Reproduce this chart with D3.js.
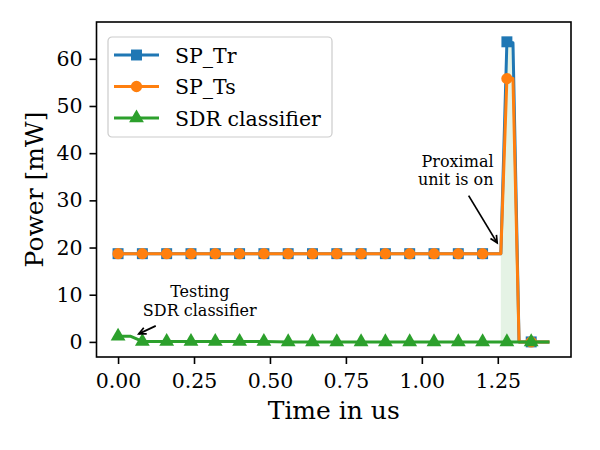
<!DOCTYPE html>
<html>
<head>
<meta charset="utf-8">
<script src="https://d3js.org/d3.v7.min.js"></script>
<style>
body { margin: 0; background: #fff; }
text { font-family: "DejaVu Serif", serif; fill: #000; }
</style>
</head>
<body>
<div id="chart-area"></div>
<script>
// data (time in us, power in mW)
var markTimes = [0, 0.08, 0.16, 0.24, 0.32, 0.40, 0.48, 0.56, 0.64, 0.72, 0.80, 0.88, 0.96, 1.04, 1.12, 1.20, 1.28, 1.36]

var spTime = [0, 0.08, 0.16, 0.24, 0.32, 0.40, 0.48, 0.56, 0.64, 0.72, 0.80, 0.88, 0.96, 1.04, 1.12, 1.20, 1.26, 1.28, 1.30, 1.32, 1.36, 1.42]
var spTr = [18.7, 18.7, 18.7, 18.7, 18.7, 18.7, 18.7, 18.7, 18.7, 18.7, 18.7, 18.7, 18.7, 18.7, 18.7, 18.7, 18.7, 63.6, 63.4, 0, 0, 0]
var spTs = [18.7, 18.7, 18.7, 18.7, 18.7, 18.7, 18.7, 18.7, 18.7, 18.7, 18.7, 18.7, 18.7, 18.7, 18.7, 18.7, 18.7, 55.8, 55.8, 0, 0, 0]

var sdrTime = [0, 0.04, 0.08, 0.16, 0.24, 0.32, 0.40, 0.48, 0.56, 0.64, 0.72, 0.80, 0.88, 0.96, 1.04, 1.12, 1.20, 1.28, 1.36, 1.42]
var sdrPow = [1.2, 1.2, 0.1, 0.1, 0.1, 0.1, 0.1, 0.1, 0, 0, 0, 0, 0, 0, 0, 0, 0, 0, 0, 0]

// shaded "proximal unit on" region
var shadeTime = [1.26, 1.26, 1.28, 1.30, 1.32]
var shadeTop = [0, 18.7, 63.6, 63.4, 0]

var xTicks = [0, 0.25, 0.5, 0.75, 1.0, 1.25]
var yTicks = [0, 10, 20, 30, 40, 50, 60]

var series = [
	{name: "SP_Tr", t: spTime, p: spTr, color: "#1f77b4", marker: "square"},
	{name: "SP_Ts", t: spTime, p: spTs, color: "#ff7f0e", marker: "circle"},
	{name: "SDR classifier", t: sdrTime, p: sdrPow, color: "#2ca02c", marker: "triangle"}
]

var W = 600, H = 450
var margin = {top: 22, right: 29, bottom: 93, left: 96.5}
var width = W - margin.left - margin.right
var height = H - margin.top - margin.bottom

var svg = d3.select("#chart-area").append("svg")
.attr("width", W)
.attr("height", H)

var g = svg.append("g")
.attr("transform", "translate(" + margin.left + ", " + margin.top + ")")

var x = d3.scaleLinear()
.domain([-0.071, 1.491])
.range([0, width])

var y = d3.scaleLinear()
.domain([-3.2, 67.8])
.range([height, 0])

// shade
var shadePts = shadeTime.map((t, i) => [t, shadeTop[i]])
g.append("path")
.attr("d", d3.line().x(d => x(d[0])).y(d => y(d[1]))(shadePts) + "Z")
.attr("fill", "#2ca02c")
.attr("fill-opacity", 0.12)

var symbols = {
	square: d3.symbol().type(d3.symbolSquare).size(120),
	circle: d3.symbol().type(d3.symbolCircle).size(100),
	triangle: d3.symbol().type(d3.symbolTriangle).size(95)
}

var line = d3.line().x(d => x(d[0])).y(d => y(d[1]))

series.forEach(s => {
	var pts = s.t.map((t, i) => [t, s.p[i]])
	g.append("path")
	.attr("d", line(pts))
	.attr("fill", "none")
	.attr("stroke", s.color)
	.attr("stroke-width", 3)
	.attr("stroke-linejoin", "round")

	var marks = pts.filter(d => markTimes.some(m => Math.abs(m - d[0]) < 1e-6))
	g.selectAll(null).data(marks).enter().append("path")
	.attr("d", symbols[s.marker])
	.attr("transform", d => "translate(" + x(d[0]) + "," + y(d[1]) + ")")
	.attr("fill", s.color)
})

// axes
var xAxisCall = d3.axisBottom(x).tickValues(xTicks).tickFormat(d3.format(".2f")).tickSize(7).tickPadding(9)
var yAxisCall = d3.axisLeft(y).tickValues(yTicks).tickSize(7).tickPadding(7)

var xAxisGroup = g.append("g")
.attr("transform", "translate(0, " + height + ")")
.call(xAxisCall)
var yAxisGroup = g.append("g").call(yAxisCall)

;[xAxisGroup, yAxisGroup].forEach(a => {
	a.select(".domain").remove()
	a.selectAll("line").attr("stroke", "#000").attr("stroke-width", 1.6)
	a.selectAll("text").attr("font-size", "20.5px").attr("font-family", "DejaVu Serif").attr("fill", "#000")
})

g.append("rect")
.attr("width", width)
.attr("height", height)
.attr("fill", "none")
.attr("stroke", "#000")
.attr("stroke-width", 1.6)

// labels
g.append("text")
.attr("x", width / 2)
.attr("y", 419 - margin.top)
.attr("font-size", "25px")
.attr("text-anchor", "middle")
.text("Time in us")

g.append("text")
.attr("transform", "translate(" + (43 - margin.left) + "," + (height / 2) + ") rotate(-90)")
.attr("font-size", "25px")
.attr("text-anchor", "middle")
.text("Power [mW]")

// legend
var legend = svg.append("g").attr("transform", "translate(108, 37)")
legend.append("rect")
.attr("width", 224)
.attr("height", 100)
.attr("rx", 4)
.attr("fill", "#fff")
.attr("fill-opacity", 0.8)
.attr("stroke", "#ccc")
.attr("stroke-width", 1.2)

series.forEach((s, i) => {
	var row = legend.append("g").attr("transform", "translate(0, " + (18 + i * 31.5) + ")")
	row.append("line")
	.attr("x1", 6).attr("x2", 51)
	.attr("stroke", s.color)
	.attr("stroke-width", 3)
	row.append("path")
	.attr("d", symbols[s.marker])
	.attr("transform", "translate(28.5, 0)")
	.attr("fill", s.color)
	row.append("text")
	.attr("x", 67)
	.attr("y", 7.5)
	.attr("font-size", "20.5px")
	.text(s.name)
})

// annotations
var arrow = (x1, y1, x2, y2) => {
	var ang = Math.atan2(y2 - y1, x2 - x1)
	var len = 8, spread = 0.45
	g.append("line")
	.attr("x1", x1).attr("y1", y1).attr("x2", x2).attr("y2", y2)
	.attr("stroke", "#000").attr("stroke-width", 1.7)
	g.append("path")
	.attr("d", "M" + (x2 - len * Math.cos(ang - spread)) + "," + (y2 - len * Math.sin(ang - spread)) +
		"L" + x2 + "," + y2 +
		"L" + (x2 - len * Math.cos(ang + spread)) + "," + (y2 - len * Math.sin(ang + spread)))
	.attr("fill", "none")
	.attr("stroke", "#000")
	.attr("stroke-width", 1.7)
}

var proxText = g.append("text")
.attr("font-size", "16px")
.attr("text-anchor", "end")
proxText.append("tspan").attr("x", x(1.236)).attr("y", y(37.1)).text("Proximal")
proxText.append("tspan").attr("x", x(1.236)).attr("y", y(33.3)).text("unit is on")
arrow(x(1.154), y(31), x(1.248), y(21))

var testText = g.append("text")
.attr("font-size", "16px")
.attr("text-anchor", "middle")
testText.append("tspan").attr("x", x(0.269)).attr("y", y(9.6)).text("Testing")
testText.append("tspan").attr("x", x(0.269)).attr("y", y(5.5)).text("SDR classifier")
arrow(x(0.124), y(3.4), x(0.068), y(1.7))
</script>
</body>
</html>
